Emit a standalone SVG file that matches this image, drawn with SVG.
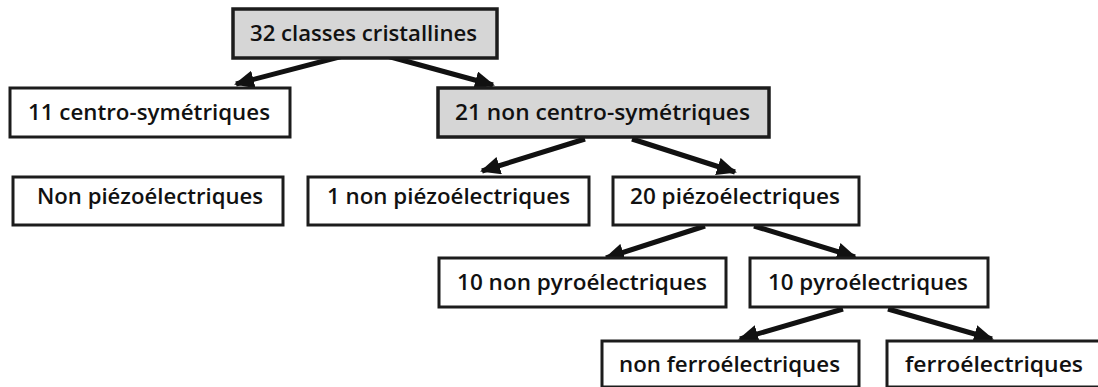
<svg xmlns="http://www.w3.org/2000/svg" width="1098" height="387" viewBox="0 0 1098 387">
<style>
.box{fill:#ffffff;stroke:#1c1c1c;stroke-width:3}
.gray{fill:#d6d6d6;stroke:#1c1c1c;stroke-width:3.5}
.t{font-family:"Open Sans","Liberation Sans",sans-serif;font-weight:600;font-size:22px;fill:#111}
.c{stroke:#111;stroke-width:5;fill:none;marker-end:url(#ah)}
</style>
<defs>
<marker id="ah" markerUnits="userSpaceOnUse" markerWidth="22" markerHeight="18" refX="18" refY="9" orient="auto">
<path d="M0,0 L20,9 L0,18 Z" fill="#111"/>
</marker>
</defs>
<rect width="1098" height="387" fill="#ffffff"/>
<g id="connectors">
<line class="c" x1="343" y1="56" x2="236" y2="84"/>
<line class="c" x1="387" y1="56" x2="493" y2="85"/>
<line class="c" x1="585" y1="139" x2="482" y2="171"/>
<line class="c" x1="632" y1="139" x2="735" y2="172"/>
<line class="c" x1="705" y1="226" x2="606" y2="258"/>
<line class="c" x1="754" y1="226" x2="855" y2="257"/>
<line class="c" x1="843" y1="309" x2="740" y2="339"/>
<line class="c" x1="888" y1="309" x2="992" y2="339"/>
</g>
<g id="n1"><rect class="gray" x="233" y="9" width="264" height="49"/><text class="t" x="250" y="41" textLength="227" lengthAdjust="spacingAndGlyphs">32 classes cristallines</text></g>
<g id="n2"><rect class="box" x="10" y="88" width="280" height="49"/><text class="t" x="28" y="120" textLength="242" lengthAdjust="spacingAndGlyphs">11 centro-symétriques</text></g>
<g id="n3"><rect class="gray" x="438" y="88" width="331" height="49"/><text class="t" x="455" y="120" textLength="295" lengthAdjust="spacingAndGlyphs">21 non centro-symétriques</text></g>
<g id="n4"><rect class="box" x="13" y="177" width="270" height="48"/><text class="t" x="37" y="204" textLength="226" lengthAdjust="spacingAndGlyphs">Non piézoélectriques</text></g>
<g id="n5"><rect class="box" x="308" y="177" width="281" height="48"/><text class="t" x="327" y="204" textLength="243" lengthAdjust="spacingAndGlyphs">1 non piézoélectriques</text></g>
<g id="n6"><rect class="box" x="613" y="177" width="246" height="48"/><text class="t" x="630" y="204" textLength="210" lengthAdjust="spacingAndGlyphs">20 piézoélectriques</text></g>
<g id="n7"><rect class="box" x="439" y="258" width="287" height="49"/><text class="t" x="457" y="290" textLength="250" lengthAdjust="spacingAndGlyphs">10 non pyroélectriques</text></g>
<g id="n8"><rect class="box" x="750" y="258" width="238" height="49"/><text class="t" x="768" y="290" textLength="200" lengthAdjust="spacingAndGlyphs">10 pyroélectriques</text></g>
<g id="n9"><rect class="box" x="602" y="341" width="257" height="46"/><text class="t" x="619" y="372" textLength="221" lengthAdjust="spacingAndGlyphs">non ferroélectriques</text></g>
<g id="n10"><rect class="box" x="887" y="341" width="214" height="46"/><text class="t" x="905" y="372" textLength="178" lengthAdjust="spacingAndGlyphs">ferroélectriques</text></g>
</svg>
